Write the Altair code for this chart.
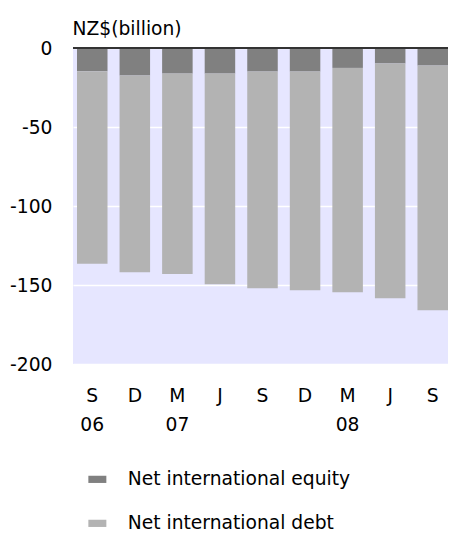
import json
import altair as alt
import pandas as pd

# ---- data ----
quarters = ["S", "D", "M", "J", "S", "D", "M", "J", "S"]
years = ["06", "", "07", "", "", "", "08", "", ""]
equity = [-14.7, -17.4, -16.2, -16.2, -14.9, -14.9, -12.6, -9.8, -11.1]
debt = [-121.9, -124.5, -126.9, -133.3, -137.1, -138.4, -142.0, -148.6, -154.9]
series = ["Net international equity", "Net international debt"]
colors = ["#808080", "#B3B3B3"]
y_ticks = [0, -50, -100, -150, -200]

rows = []
for i, (e, d) in enumerate(zip(equity, debt)):
    rows.append({"idx": i, "series": series[0], "value": e, "ord": 0})
    rows.append({"idx": i, "series": series[1], "value": d, "ord": 1})
df = pd.DataFrame(rows)

label_arr = [[q, y] if y else [q] for q, y in zip(quarters, years)]
label_expr = json.dumps(label_arr).replace('"', "'") + "[datum.value]"

FONT = "DejaVu Sans"
FS = 18.7

bars = alt.Chart(df).mark_bar().encode(
    x=alt.X(
        "idx:O",
        scale=alt.Scale(paddingInner=0.283, paddingOuter=0.047, align=1),
        axis=alt.Axis(
            title=None, labelExpr=label_expr, labelAngle=0, ticks=False,
            domain=False, labelPadding=22, labelLineHeight=29,
            labelFont=FONT, labelFontSize=FS, labelColor="#000",
            labelAlign="center", labelBaseline="top", grid=False,
        ),
    ),
    y=alt.Y(
        "value:Q",
        stack="zero",
        scale=alt.Scale(domain=[-200, 0], nice=False),
        axis=alt.Axis(
            values=y_ticks, labelExpr="'' + datum.value",
            title="NZ$(billion)", titleAngle=0, titleX=-1,
            titleY=-20, titleAlign="left", titleBaseline="middle",
            titleFont=FONT, titleFontSize=FS, titleFontWeight="normal",
            titleColor="#000", ticks=False, domain=False, grid=True,
            gridColor="white", gridWidth=1.5, labelPadding=21,
            labelFont=FONT, labelFontSize=FS, labelColor="#000",
        ),
    ),
    color=alt.Color(
        "series:N",
        scale=alt.Scale(domain=series, range=colors),
        legend=alt.Legend(
            title=None, orient="none", legendX=15, legendY=422,
            symbolType="M-1,-0.4H1V0.4H-1Z", symbolSize=324,
            symbolStrokeWidth=0, labelFont=FONT, labelFontSize=FS,
            labelColor="#000", labelOffset=21, rowPadding=24, padding=0,
            labelLimit=400, direction="vertical",
        ),
    ),
    order=alt.Order("ord:Q"),
)

zero_line = alt.Chart(pd.DataFrame({"z": [0]})).mark_rule(
    color="#333333", strokeWidth=2
).encode(y=alt.datum(0))

chart = alt.layer(bars, zero_line).properties(
    width=375,
    height=316,
    padding={"left": 65, "top": 40, "right": 0, "bottom": 171},
    autosize=alt.AutoSizeParams(type="none"),
).configure_view(fill="#E6E6FF", stroke=None)

chart.save("out.html", embed_options={"renderer": "svg", "actions": False})
